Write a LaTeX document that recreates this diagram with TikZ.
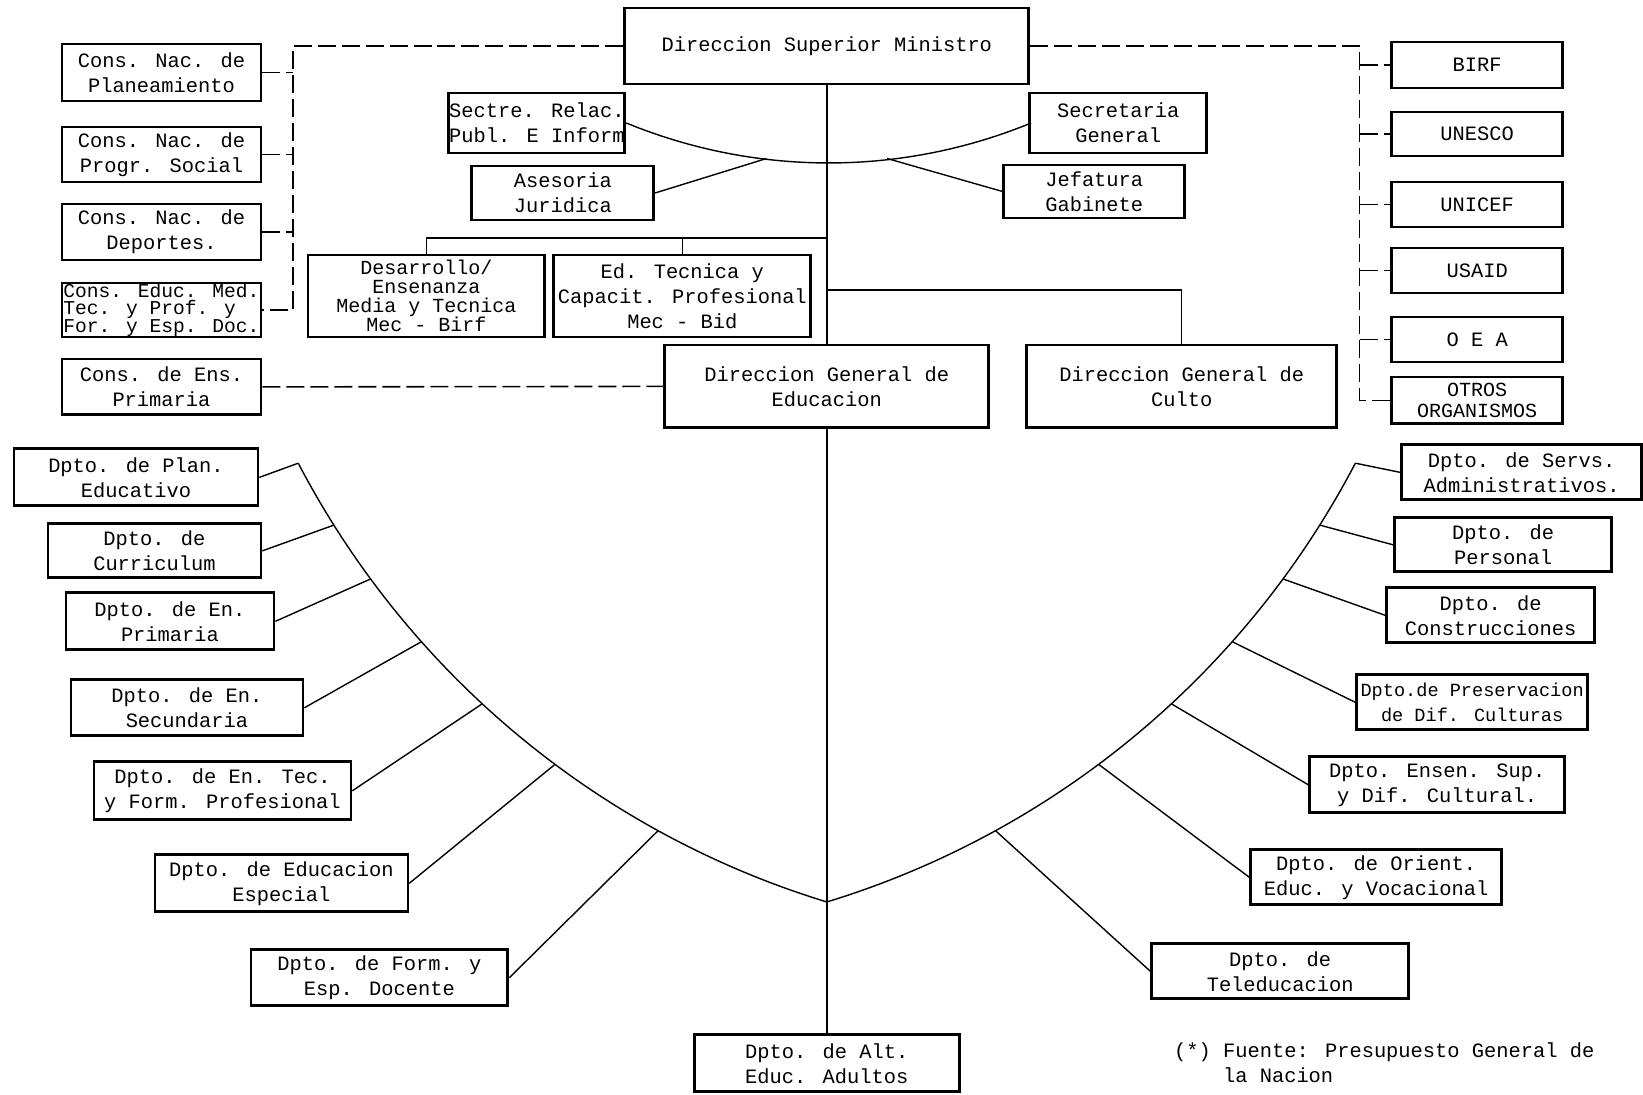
\documentclass[tikz,border=0pt]{standalone}
\usepackage{fontspec}
\newfontfamily\typew{Liberation Mono}
\usepackage{tikz}
\newcommand\boxfont[2]{\typew\fontsize{#1}{#2}\selectfont\lineskiplimit-10pt\relax}

\begin{document}
\begin{tikzpicture}[
    x=0.5pt, y=0.5pt,
    box/.style={rectangle, draw, line width=1.4pt, inner sep=0pt, align=center, font={\boxfont{10.2}{12.5}}},
    tight/.style={font={\boxfont{9.8}{8.6}}},
    link/.style={line width=0.7pt},
    dashline/.style={line width=0.8pt, dash pattern=on 9pt off 3pt},
]
    \path[fill=white] (0,0) rectangle (1643,-1095);

    \node[box, minimum width=202pt, minimum height=38pt] (dsm) at (827,-46) {Direccion Superior Ministro};

    \node[box, minimum width=99.5pt, minimum height=28.5pt] (cplan) at (161.5,-72.5) {Cons. Nac. de\\Planeamiento};
    \node[box, minimum width=99.5pt, minimum height=27.5pt] (cprog) at (161.5,-154.5) {Cons. Nac. de\\Progr. Social};
    \node[box, minimum width=99.5pt, minimum height=28pt] (cdep) at (161.5,-232) {Cons. Nac. de\\Deportes.};
    \node[box, tight, align=left, minimum width=99.5pt, minimum height=27pt] (cedu) at (161.5,-310) {Cons. Educ. Med.\\Tec. y Prof. y\\For. y Esp. Doc.};
    \node[box, minimum width=99.5pt, minimum height=28pt] (cens) at (161.5,-387) {Cons. de Ens.\\Primaria};

    \node[box, minimum width=88pt, minimum height=30pt] (sectre) at (537,-123) {Sectre. Relac.\\Publ. E Inform};
    \node[box, minimum width=88.5pt, minimum height=30pt] (secgen) at (1118.5,-123) {Secretaria\\General};
    \node[box, minimum width=91pt, minimum height=27pt] (ases) at (563,-193) {Asesoria\\Juridica};
    \node[box, minimum width=90.5pt, minimum height=26.5pt] (jefa) at (1094.5,-191.5) {Jefatura\\Gabinete};
    \node[box, font={\boxfont{10}{9.5}}, minimum width=118.5pt, minimum height=41pt] (des) at (426.5,-296) {Desarrollo/\\Ensenanza\\Media y Tecnica\\Mec - Birf};
    \node[box, minimum width=128.5pt, minimum height=41pt] (edt) at (682.5,-296) {Ed. Tecnica y\\Capacit. Profesional\\Mec - Bid};
    \node[box, minimum width=162pt, minimum height=41.5pt] (dge) at (827,-386.5) {Direccion General de\\Educacion};
    \node[box, minimum width=155pt, minimum height=41.5pt] (culto) at (1182,-386.5) {Direccion General de\\Culto};

    \node[box, minimum width=85.5pt, minimum height=23pt] (birf) at (1477.5,-65) {BIRF};
    \node[box, minimum width=85.5pt, minimum height=22pt] (unesco) at (1477.5,-134) {UNESCO};
    \node[box, minimum width=85.5pt, minimum height=22.5pt] (unicef) at (1477.5,-204.5) {UNICEF};
    \node[box, minimum width=85.5pt, minimum height=22.5pt] (usaid) at (1477.5,-270.5) {USAID};
    \node[box, minimum width=85.5pt, minimum height=22.5pt] (oea) at (1477.5,-339.5) {O E A};
    \node[box, font={\boxfont{10}{10.5}}, minimum width=85.5pt, minimum height=23.5pt] (otros) at (1477.5,-400.5) {OTROS\\ORGANISMOS};

    \node[box, minimum width=122pt, minimum height=28.5pt] (plan) at (136,-477.5) {Dpto. de Plan.\\Educativo};
    \node[box, minimum width=106.5pt, minimum height=27pt] (curr) at (154.5,-551) {Dpto. de\\Curriculum};
    \node[box, minimum width=104pt, minimum height=28.5pt] (prim) at (170,-621.5) {Dpto. de En.\\Primaria};
    \node[box, minimum width=116pt, minimum height=28pt] (secu) at (187,-708) {Dpto. de En.\\Secundaria};
    \node[box, minimum width=128.5pt, minimum height=29pt] (tec) at (222.5,-791) {Dpto. de En. Tec.\\y Form. Profesional};
    \node[box, minimum width=126.5pt, minimum height=28.5pt] (esp) at (281.5,-883.5) {Dpto. de Educacion\\Especial};
    \node[box, minimum width=128.5pt, minimum height=28pt] (doc) at (379.5,-978) {Dpto. de Form. y\\Esp. Docente};

    \node[box, minimum width=132.5pt, minimum height=28.5pt] (alt) at (827,-1063.5) {Dpto. de Alt.\\Educ. Adultos};

    \node[box, minimum width=120pt, minimum height=27.5pt] (adm) at (1522,-472.5) {Dpto. de Servs.\\Administrativos.};
    \node[box, minimum width=108.5pt, minimum height=27pt] (pers) at (1503.5,-545) {Dpto. de\\Personal};
    \node[box, minimum width=104pt, minimum height=27.5pt] (cons) at (1491,-615.5) {Dpto. de\\Construcciones};
    \node[box, font={\boxfont{9.3}{12.5}}, minimum width=115.5pt, minimum height=27.5pt] (pres) at (1472.5,-702.5) {Dpto.de Preservacion\\de Dif. Culturas};
    \node[box, minimum width=127.5pt, minimum height=28pt] (sup) at (1437.5,-785) {Dpto. Ensen. Sup.\\y Dif. Cultural.};
    \node[box, minimum width=125.5pt, minimum height=27.5pt] (ori) at (1376.5,-877.5) {Dpto. de Orient.\\Educ. y Vocacional};
    \node[box, minimum width=128.5pt, minimum height=27.5pt] (tele) at (1280.5,-971.5) {Dpto. de\\Teleducacion};

    \node[anchor=west, align=left, inner sep=0pt, font={\boxfont{10.2}{12.5}}] (fuente) at (1174,-1062.5) {(*) Fuente: Presupuesto General de\\\hphantom{(*) }la Nacion};

    % dashed links
    \coordinate (lv) at (293,-47);
    \coordinate (rv) at (1360,-44);
    \draw[dashline] (dsm.west) -| (lv |- cedu.east) -- (cedu.east);
    \foreach \n in {cplan,cprog,cdep}
        \draw[dashline] (\n.east) -- (lv |- \n.east);
    \draw[dashline] (dsm.east) -| (rv |- otros.west) -- (otros.west);
    \foreach \n in {birf,unesco,unicef,usaid,oea}
        \draw[dashline] (rv |- \n.west) -- (\n.west);
    \draw[dashline] (cens.east) -- (dge.west);

    % trunk and branches
    \draw[link] (dsm.south) -- (dge.north);
    \draw[link] (dge.south) -- (alt.north);
    \coordinate (jdes) at (827,-238);
    \coordinate (jcul) at (827,-290);
    \draw[link] (jdes) -| (des.north);
    \draw[link] (edt.north) -- (edt.north |- jdes);
    \draw[link] (jcul) -| (culto.north);

    \coordinate (stc) at (827,370.6);
    \draw[link] (sectre.east) arc[start angle=247.65, end angle=292.35, radius=532.6];
    \coordinate (sa) at ([shift={(stc)}]263.5:532.6);
    \coordinate (sb) at ([shift={(stc)}]276.5:532.6);
    \draw[link] (sa) -- (ases.east);
    \draw[link] (sb) -- (jefa.west);

    % departamentos
    \coordinate (cl) at (1087,-51);
    \coordinate (cr) at (567,-51);
    \foreach \a [evaluate=\a as \b using 540-\a, count=\i] in {207.6,212.2,216.4,221.6,227.2,233.3,241.2} {
        \coordinate (la\i) at ([shift={(cl)}]\a:890);
        \coordinate (ra\i) at ([shift={(cr)}]\b:890);
    }
    \draw[link] (la1) arc[start angle=207.6, end angle=253, radius=890];
    \draw[link] (ra1) arc[start angle=332.4, end angle=287, radius=890];
    \foreach \i/\n in {1/plan,2/curr,3/prim,4/secu,5/tec,6/esp,7/doc}
        \draw[link] (la\i) -- (\n.east);
    \foreach \i/\n in {1/adm,2/pers,3/cons,4/pres,5/sup,6/ori,7/tele}
        \draw[link] (ra\i) -- (\n.west);
\end{tikzpicture}
\end{document}
